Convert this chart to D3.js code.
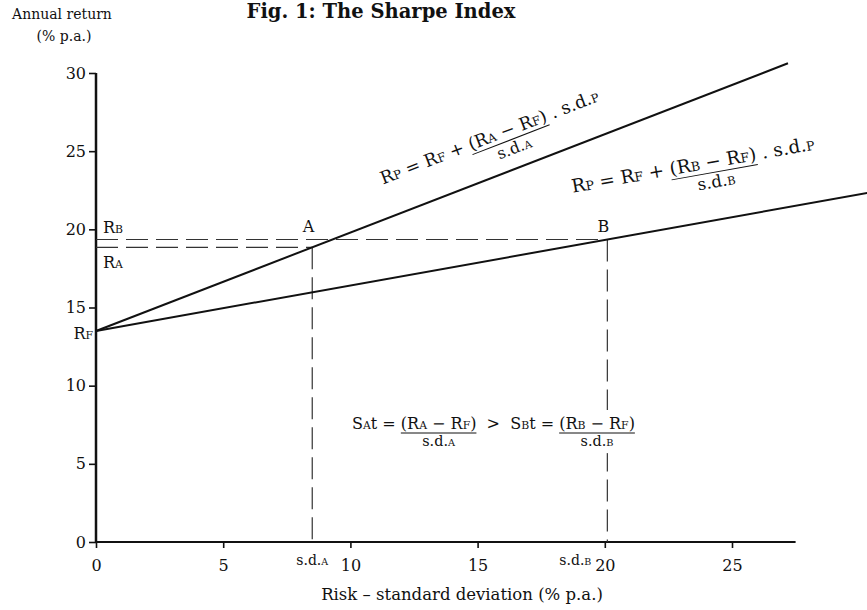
<!DOCTYPE html>
<html>
<head>
<meta charset="utf-8">
<script src="https://cdn.jsdelivr.net/npm/d3@7"></script>
<style>
  body { margin: 0; background: #fff; }
  svg { display: block; font-family: "DejaVu Serif", serif; }
  text { white-space: pre; fill: #111; }
</style>
</head>
<body>
<svg id="chart" width="867" height="610"></svg>
<script>
const xTicks = [0, 5, 10, 15, 20, 25];
const yTicks = [0, 5, 10, 15, 20, 25, 30];
const riskFree = 13.5;
const portfolios = ["A", "B"];
const portfolioRisk = [8.5, 20.1];
const portfolioReturn = [18.85, 19.35];
const lineEnd = [27.2, 30.5];

const x = d3.scaleLinear().domain([0, 25]).range([96, 732]);
const y = d3.scaleLinear().domain([0, 30]).range([542, 73]);

const svg = d3.select("#chart");
const ink = "#111";

// text with small-caps style subscripts written as _X
const subScale = 0.68;
function rich(parent, str, size) {
  const t = parent.append("text").attr("font-size", size);
  str.split(/(_[A-Z])/).filter((s) => s).forEach((s) => {
    if (s[0] === "_") t.append("tspan").attr("font-size", size * subScale).text(s.slice(1));
    else t.append("tspan").text(s);
  });
  return t;
}

// lays out a row of text pieces and fractions, baseline at 0
function formula(g, pieces, size) {
  let cx = 0;
  pieces.forEach((p) => {
    if (typeof p === "string") {
      const t = rich(g, p, size).attr("x", cx);
      cx += t.node().getComputedTextLength();
    } else {
      const n = rich(g, p.num, size).attr("x", cx);
      const w = n.node().getComputedTextLength();
      g.append("line")
        .attr("x1", cx).attr("x2", cx + w)
        .attr("y1", size * 0.25).attr("y2", size * 0.25)
        .attr("stroke", ink).attr("stroke-width", 1);
      rich(g, p.den, size * 0.9)
        .attr("x", cx + w / 2).attr("y", size * 1.07)
        .attr("text-anchor", "middle");
      cx += w;
    }
  });
  return cx;
}

// title and axis labels
svg.append("text")
  .attr("x", 381).attr("y", 18)
  .attr("text-anchor", "middle")
  .attr("font-size", 19.5).attr("font-weight", "bold")
  .text("Fig. 1: The Sharpe Index");

svg.append("text")
  .attr("x", 62).attr("y", 19)
  .attr("text-anchor", "middle").attr("font-size", 14)
  .text("Annual return");
svg.append("text")
  .attr("x", 64).attr("y", 41)
  .attr("text-anchor", "middle").attr("font-size", 14)
  .text("(% p.a.)");

svg.append("text")
  .attr("x", 462).attr("y", 600)
  .attr("text-anchor", "middle").attr("font-size", 16.5)
  .text("Risk \u2013 standard deviation (% p.a.)");

// axes
const styleAxis = (g) => {
  g.attr("font-family", null).attr("font-size", null);
  g.select(".domain").remove();
  g.selectAll("text").attr("font-size", 16).attr("fill", ink);
  g.selectAll(".tick line").attr("stroke", ink).attr("stroke-width", 1.6);
};

svg.append("g")
  .attr("transform", `translate(${x(0)},0)`)
  .call(d3.axisLeft(y).tickValues(yTicks).tickSize(7).tickPadding(3))
  .call(styleAxis);

svg.append("g")
  .attr("transform", `translate(0,${y(0)})`)
  .call(d3.axisBottom(x).tickValues(xTicks).tickSize(6).tickPadding(12))
  .call(styleAxis);

svg.append("line")
  .attr("x1", x(0)).attr("x2", x(0))
  .attr("y1", y(0) + 1).attr("y2", y(30))
  .attr("stroke", ink).attr("stroke-width", 2.5);
svg.append("line")
  .attr("x1", x(0) - 1).attr("x2", x(27.5))
  .attr("y1", y(0)).attr("y2", y(0))
  .attr("stroke", ink).attr("stroke-width", 2.2);

// dashed guides to each portfolio
const dash = "22,8";
portfolios.forEach((p, i) => {
  const sd = portfolioRisk[i], r = portfolioReturn[i];
  svg.append("line")
    .attr("x1", x(0)).attr("x2", x(sd))
    .attr("y1", y(r)).attr("y2", y(r))
    .attr("stroke", "#333").attr("stroke-width", 1.2)
    .attr("stroke-dasharray", dash);
  svg.append("line")
    .attr("x1", x(sd)).attr("x2", x(sd))
    .attr("y1", y(r)).attr("y2", y(0))
    .attr("stroke", "#333").attr("stroke-width", 1.2)
    .attr("stroke-dasharray", dash);
});

// capital market lines from the risk free rate through A and B
const line = d3.line().x((d) => x(d[0])).y((d) => y(d[1]));
portfolios.forEach((p, i) => {
  const slope = (portfolioReturn[i] - riskFree) / portfolioRisk[i];
  svg.append("path")
    .attr("d", line([[0, riskFree], [lineEnd[i], riskFree + slope * lineEnd[i]]]))
    .attr("fill", "none").attr("stroke", ink).attr("stroke-width", 2);
});

// point and axis labels
const label = (str, px, py, size, anchor) =>
  rich(svg, str, size).attr("x", px).attr("y", py).attr("text-anchor", anchor || "start");

label("R_F", x(0) - 3, y(riskFree) + 8, 16, "end");
label("R_B", x(0) + 7, y(portfolioReturn[1]) - 6, 16);
label("R_A", x(0) + 7, y(portfolioReturn[0]) + 21, 16);
const sdLabelShift = [0, -32];
portfolios.forEach((p, i) => {
  label(p, x(portfolioRisk[i]) + 2, y(portfolioReturn[1]) - 7, 16, "end");
  label("s.d._" + p, x(portfolioRisk[i]) + sdLabelShift[i], y(0) + 23, 14, "middle");
});

// formulas written along each line
const formulaStart = [11.75, 19.1];
const formulaOffset = [33, 52];
portfolios.forEach((p, i) => {
  const slope = (portfolioReturn[i] - riskFree) / portfolioRisk[i];
  const x0 = formulaStart[i];
  const px = x(x0), py = y(riskFree + slope * x0);
  const ang = Math.atan2(y(riskFree + slope) - y(riskFree), x(1) - x(0));
  const ax = px + Math.sin(ang) * formulaOffset[i];
  const ay = py - Math.cos(ang) * formulaOffset[i];
  const g = svg.append("g")
    .attr("transform", `translate(${ax},${ay}) rotate(${(ang * 180) / Math.PI})`);
  formula(g, [
    "R_P = R_F + ",
    { num: `(R_${p} \u2212 R_F)`, den: `s.d._${p}` },
    " . s.d._P",
  ], 17.5 + i);
});

// Sharpe ratio comparison, on a white patch that breaks the dashed line
const cmp = svg.append("g").attr("transform", "translate(352,429)");
formula(cmp, [
  "S_At = ",
  { num: "(R_A \u2212 R_F)", den: "s.d._A" },
  "  >  S_Bt = ",
  { num: "(R_B \u2212 R_F)", den: "s.d._B" },
], 16);
const box = cmp.node().getBBox();
cmp.insert("rect", ":first-child")
  .attr("x", box.x - 4).attr("y", box.y - 4)
  .attr("width", box.width + 8).attr("height", box.height + 8)
  .attr("fill", "#fff");
</script>
</body>
</html>
